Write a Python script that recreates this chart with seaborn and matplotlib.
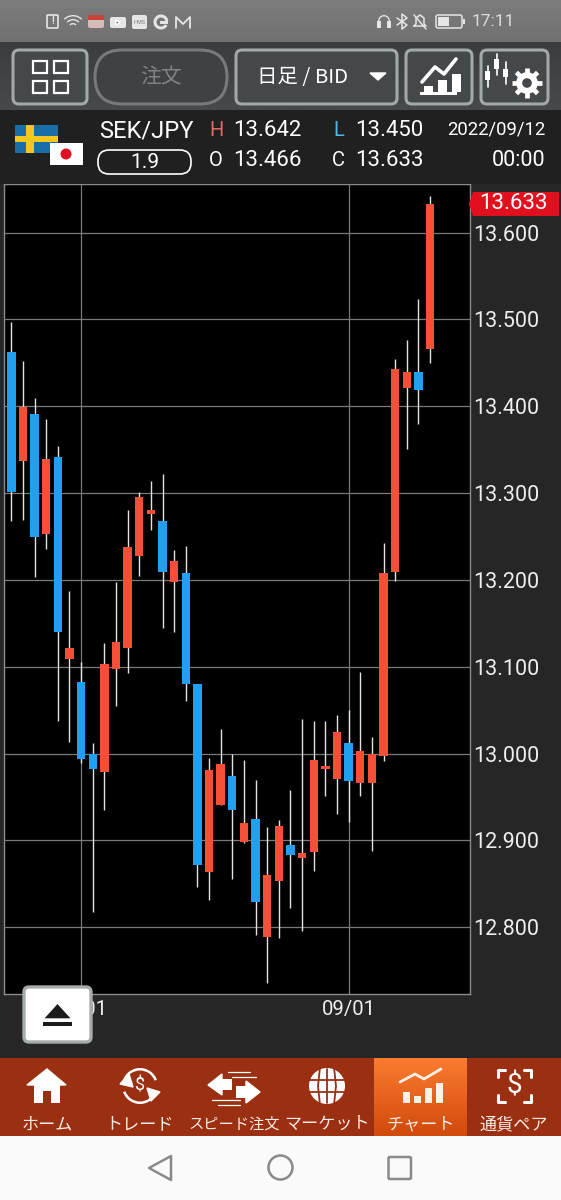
import numpy as np
import pandas as pd
import matplotlib
matplotlib.use('Agg')
import matplotlib.pyplot as plt
import seaborn as sns
from matplotlib.patches import Circle, FancyBboxPatch, Polygon, Rectangle, Wedge

# daily SEK/JPY candles
dates = pd.bdate_range('2022-07-22', '2022-09-12')
opens = [13.463, 13.337, 13.391, 13.253, 13.341, 13.109, 13.082, 13.000, 12.979, 13.097,
         13.121, 13.228, 13.276, 13.268, 13.197, 13.208, 13.080, 12.864, 12.941, 12.974,
         12.898, 12.924, 12.789, 12.853, 12.895, 12.880, 12.886, 12.982, 12.971, 13.012,
         12.966, 12.966, 12.997, 13.209, 13.421, 13.440, 13.466]
highs = [13.497, 13.452, 13.409, 13.385, 13.354, 13.187, 13.105, 13.012, 13.127, 13.197,
         13.280, 13.301, 13.314, 13.322, 13.234, 13.239, 13.080, 12.995, 13.028, 12.999,
         12.992, 12.969, 12.915, 12.923, 12.958, 13.040, 13.038, 13.038, 13.044, 13.050,
         13.094, 13.019, 13.242, 13.455, 13.476, 13.523, 13.642]
lows = [13.268, 13.269, 13.203, 13.235, 13.038, 13.013, 12.989, 12.818, 12.935, 13.055,
        13.093, 13.205, 13.258, 13.145, 13.140, 13.060, 12.846, 12.831, 12.941, 12.856,
        12.897, 12.791, 12.736, 12.787, 12.822, 12.796, 12.865, 12.951, 12.930, 12.921,
        12.951, 12.888, 12.991, 13.199, 13.351, 13.379, 13.450]
closes = [13.301, 13.399, 13.249, 13.339, 13.140, 13.121, 12.994, 12.982, 13.103, 13.129,
          13.238, 13.295, 13.280, 13.209, 13.222, 13.080, 12.872, 12.981, 12.988, 12.935,
          12.920, 12.829, 12.860, 12.917, 12.883, 12.885, 12.993, 12.986, 13.025, 12.968,
          13.003, 13.000, 13.208, 13.443, 13.439, 13.419, 13.633]
price_ticks = [12.8, 12.9, 13.0, 13.1, 13.2, 13.3, 13.4, 13.5, 13.6]
date_ticks = ['2022-08-01', '2022-09-01']
date_labels = ['08/01', '09/01']

UP = '#f64f38'
DOWN = '#22a0f0'
BG = '#262626'
JP = ['Noto Sans CJK JP', 'DejaVu Sans']

sns.set_theme(style='dark', rc={'axes.facecolor': 'black', 'figure.facecolor': BG})
plt.rcParams['font.family'] = ['Roboto', 'Noto Sans CJK JP', 'DejaVu Sans']

W, H = 561, 1200
fig = plt.figure(figsize=(W / 100, H / 100), dpi=100)

# chart
ax = fig.add_axes([4 / W, 1 - 994 / H, (470.5 - 4) / W, (994 - 184) / H])
df = pd.DataFrame({'pos': np.arange(len(dates)), 'open': opens, 'high': highs, 'low': lows, 'close': closes})
df['body_low'] = df[['open', 'close']].min(axis=1)
df['body'] = (df['close'] - df['open']).abs()
df['up'] = df['close'] >= df['open']

ax.vlines(df['pos'], df['low'], df['high'], color='#e2e2e2', lw=1.0, zorder=2)
for is_up, color in [(True, UP), (False, DOWN)]:
    part = df[df['up'] == is_up]
    sns.barplot(data=part, x='pos', y='body', bottom=part['body_low'].values, native_scale=True,
                width=0.72, color=color, saturation=1, errorbar=None, linewidth=0, zorder=3, ax=ax)

ax.set_xlim(-0.63, 39.48)
ax.set_ylim(12.723, 13.656)
ax.set_xlabel('')
ax.set_ylabel('')
tick_pos = [list(dates).index(pd.Timestamp(d)) for d in date_ticks]
ax.set_xticks(tick_pos)
ax.set_xticklabels(date_labels, color='#eeeeee', fontsize=14.7)
ax.yaxis.tick_right()
ax.set_yticks(price_ticks)
ax.set_yticklabels(['%.3f' % p for p in price_ticks], color='#eeeeee', fontsize=15.5)
ax.tick_params(axis='both', length=0)
ax.tick_params(axis='x', pad=4)
ax.tick_params(axis='y', pad=2)
ax.set_axisbelow(True)
ax.grid(True, color='#7a7a7a', lw=0.9)
for s in ax.spines.values():
    s.set_color('#8c8c8c')
    s.set_linewidth(1.0)

# app chrome, drawn in screen pixels
ui = fig.add_axes([0, 0, 1, 1])
ui.patch.set_alpha(0)
ui.axis('off')


def vgrad(x0, x1, y0, y1, c0, c1, z=0):
    cm = matplotlib.colors.LinearSegmentedColormap.from_list('g', [c0, c1])
    ui.imshow(np.linspace(0, 1, 64)[:, None], cmap=cm, extent=(x0, x1, y1, y0), aspect='auto', zorder=z)


def rbox(x0, y0, x1, y1, r, fc, ec, lw=2.0, z=1):
    ui.add_patch(FancyBboxPatch((x0 + r, y0 + r), x1 - x0 - 2 * r, y1 - y0 - 2 * r,
                                boxstyle='round,pad=%f,rounding_size=%f' % (r, r), fc=fc, ec=ec, lw=lw, zorder=z))


def rect(x0, y0, x1, y1, fc='white', ec='none', lw=0, z=3):
    ui.add_patch(Rectangle((x0, y0), x1 - x0, y1 - y0, fc=fc, ec=ec, lw=lw, zorder=z))


def gear(cx, cy, r, fc, hole):
    for a in np.arange(0, 360, 45):
        t = np.radians(a)
        ui.plot([cx, cx + r * np.cos(t)], [cy, cy + r * np.sin(t)], color=fc, lw=3.4, zorder=3, solid_capstyle='butt')
    ui.add_patch(Circle((cx, cy), r * 0.72, fc=fc, ec='none', zorder=3))
    ui.add_patch(Circle((cx, cy), r * 0.32, fc=hole, ec='none', zorder=4))


def line(xs, ys, c='white', lw=1.5, z=3):
    ui.plot(xs, ys, color=c, lw=lw, zorder=z, solid_capstyle='round', solid_joinstyle='round')


vgrad(0, W, 0, 42, '#7c7c7c', '#717171')
vgrad(0, W, 42, 110, '#3a3c3e', '#47494b')
rect(0, 110, W, 184, fc='#202020', z=0)
rect(0, 1136, W, H, fc='#fafafa', z=0)
rect(0, 1058, W, 1136, fc='#9b2f12', z=0)
vgrad(374, 467, 1058, 1136, '#fb7c30', '#d04a0c', z=1)

# status bar
SB = '#e6e6e6'
rbox(47, 15, 58, 28, 1, 'none', SB, lw=1.2, z=3)
ui.text(52.5, 21.5, '!', color=SB, fontsize=7, ha='center', va='center', zorder=4, fontweight='bold')
for r in (5, 9, 13):
    ui.add_patch(Wedge((73, 28), r, 225, 315, width=1.4, fc=SB, ec='none', zorder=3))
rbox(88, 15, 104, 28, 2, '#d8bcb8', 'none', z=3)
rect(88, 15, 104, 20, fc='#c8423c')
rbox(110, 17, 126, 28, 2, SB, 'none', z=3)
ui.add_patch(Polygon([(116, 20), (116, 25), (120, 22.5)], fc='#666666', zorder=4))
rbox(132, 15, 147, 29, 2, SB, 'none', z=3)
ui.text(139.5, 22, 'HMS', color='#777777', fontsize=4, ha='center', va='center', zorder=4)
ui.add_patch(Wedge((161, 22), 7.5, 30, 350, width=3, fc=SB, ec='none', zorder=3))
rect(160, 21, 168, 24, fc=SB)
line([176, 176, 183, 190, 190], [28, 17, 24, 17, 28], c=SB, lw=1.3)
ui.add_patch(Wedge((384, 21), 6, 180, 360, width=1.4, fc=SB, ec='none', zorder=3))
rect(377, 21, 381, 28, fc=SB)
rect(387, 21, 391, 28, fc=SB)
line([397, 407, 402, 402, 407, 397], [18, 25, 29, 14, 18, 25], c=SB, lw=1.1)
line([414, 416, 416, 420, 424, 424, 426, 414], [26, 24, 18, 15, 18, 24, 26, 26], c=SB, lw=1.1)
line([414, 426], [15, 29], c=SB, lw=1.1)
rbox(436, 15, 462, 28, 2, 'none', SB, lw=1.1, z=3)
rect(438, 17, 449, 26, fc=SB)
rect(463, 19, 465, 24, fc=SB)
ui.text(472, 21.5, '17:11', color='#dddddd', fontsize=12.5, ha='left', va='center', zorder=3)

# toolbar
EDGE = '#a3a8a8'
for x0, x1 in [(13, 87), (236, 397), (406, 472), (481, 548)]:
    rbox(x0, 50, x1, 104, 6, '#45484a', EDGE, lw=2.2)
rbox(95, 50, 227, 104, 27, '#3f4244', '#777a7c', lw=2.2)
for x in (33, 54):
    for y in (61, 81):
        rect(x, y, x + 14, y + 12, fc='none', ec='white', lw=1.6)
ui.text(161, 77, '注文', color='#808385', fontsize=15, family=JP, ha='center', va='center', zorder=3)
ui.text(303, 77, '日足 / BID', color='white', fontsize=14.7, family=JP, ha='center', va='center', zorder=3)
ui.add_patch(Polygon([(370, 73), (386, 73), (378, 80)], fc='white', zorder=3))
for x, top in [(424, 86), (438, 80), (452, 74)]:
    rect(x, top, x + 9, 92, fc='white')
rect(420, 92, 457, 95, fc='white')
line([422, 435, 444, 456], [82, 67, 74, 59], lw=2.6)
for x, y0, y1, b0, b1 in [(488, 66, 87, 71, 80), (497, 54, 75, 59, 69), (506, 62, 84, 69, 77)]:
    line([x, x], [y0, y1], lw=1.2)
    rect(x - 2.5, b0, x + 2.5, b1, fc='white')
gear(527, 83, 15, 'white', '#45484a')

# quote header
rect(15, 125, 58, 153, fc='#1a6ea8')
rect(26, 125, 34, 153, fc='#f2c81e')
rect(15, 136, 58, 142, fc='#f2c81e')
rect(50, 143, 83, 165, fc='white', z=4)
ui.add_patch(Circle((66, 154), 5.5, fc='#e01020', ec='none', zorder=5))
ui.text(99, 131, 'SEK/JPY', color='white', fontsize=17, ha='left', va='center', zorder=3)
rbox(98, 150, 191, 174, 11, 'none', 'white', lw=1.2, z=3)
ui.text(145, 162, '1.9', color='white', fontsize=15, ha='center', va='center', zorder=3)
QS = 16
ui.text(209, 130, 'H', color='#e06a66', fontsize=14.5, ha='left', va='center', zorder=3)
ui.text(233, 130, '13.642', color='white', fontsize=QS, ha='left', va='center', zorder=3)
ui.text(333, 130, 'L', color='#4fb8e8', fontsize=14.5, ha='left', va='center', zorder=3)
ui.text(355, 130, '13.450', color='white', fontsize=QS, ha='left', va='center', zorder=3)
ui.text(209, 160, 'O', color='white', fontsize=14.5, ha='left', va='center', zorder=3)
ui.text(233, 160, '13.466', color='white', fontsize=QS, ha='left', va='center', zorder=3)
ui.text(332, 160, 'C', color='white', fontsize=14.5, ha='left', va='center', zorder=3)
ui.text(355, 160, '13.633', color='white', fontsize=QS, ha='left', va='center', zorder=3)
ui.text(545, 130, '2022/09/12', color='white', fontsize=13.3, ha='right', va='center', zorder=3)
ui.text(545, 160, '00:00', color='white', fontsize=15.5, ha='right', va='center', zorder=3)

# last price tag follows the latest close
fig.canvas.draw()
tag_y = H - ax.transData.transform((0, closes[-1]))[1]
ui.add_patch(Polygon([(469, tag_y), (473, tag_y - 12), (559, tag_y - 12), (559, tag_y + 12), (473, tag_y + 12)],
                     fc='#e2101f', ec='none', zorder=3))
ui.text(513, tag_y, '%.3f' % closes[-1], color='white', fontsize=16, ha='center', va='center', zorder=4)

# eject button
rbox(24, 987, 91, 1042, 5, 'white', '#a6acac', lw=2.4, z=3)
ui.add_patch(Polygon([(43, 1019), (57.5, 1003), (72, 1019)], fc='#1c1c1c', zorder=4))
rect(43, 1022, 72, 1026, fc='#1c1c1c', z=4)

# bottom navigation
nav_labels = ['ホーム', 'トレード', 'スピード注文', 'マーケット', 'チャート', '通貨ペア']
nav_x = [47, 140, 234, 327, 421, 514]
nav_size = [12.3, 12.3, 11, 12.3, 12.3, 12.3]
for x, s, fs in zip(nav_x, nav_labels, nav_size):
    ui.text(x, 1124, s, color='#f7ece6', fontsize=fs, family=JP, ha='center', va='center', zorder=3)
# home
ui.add_patch(Polygon([(27, 1085), (47, 1069), (66, 1085)], fc='white', zorder=3))
rect(34, 1085, 60, 1103)
rect(43, 1091, 51, 1103, fc='#9b2f12', z=4)
# trade
ui.add_patch(Wedge((140, 1086), 18, 200, 340, width=2.5, fc='white', ec='none', zorder=3))
ui.add_patch(Wedge((140, 1086), 18, 20, 160, width=2.5, fc='white', ec='none', zorder=3))
ui.add_patch(Polygon([(120, 1084), (129, 1074), (133, 1087)], fc='white', zorder=3))
ui.add_patch(Polygon([(160, 1092), (151, 1101), (147, 1088)], fc='white', zorder=3))
ui.text(140, 1086, '$', color='white', fontsize=13, ha='center', va='center', zorder=3)
# speed order
ui.add_patch(Polygon([(208, 1085), (222, 1074), (222, 1095)], fc='white', zorder=3))
rect(222, 1079, 232, 1090)
ui.add_patch(Polygon([(260, 1092), (246, 1081), (246, 1103)], fc='white', zorder=3))
rect(236, 1086, 246, 1098)
for x0, x1, y in [(228, 250, 1072), (232, 256, 1077), (212, 240, 1100), (218, 240, 1105)]:
    line([x0, x1], [y, y], lw=0.9)
# market globe
ui.add_patch(Circle((327, 1086), 18, fc='white', ec='none', zorder=3))
for dx in (-9, 0, 9):
    line([327 + dx * 0.8, 327 + dx, 327 + dx * 0.8], [1069, 1086, 1103], c='#9b2f12', lw=1.3, z=4)
for y in (1080, 1092):
    line([309, 345], [y, y], c='#9b2f12', lw=1.3, z=4)
# chart tab
for x, top in [(403, 1092), (414, 1096), (425, 1088), (436, 1083)]:
    rect(x, top, x + 7, 1103, fc='#fdf0e6')
line([400, 415, 424, 441], [1082, 1074, 1079, 1069], c='#fdf0e6', lw=2)
# pairs
for sx, sy, x, y in [(1, 1, 498, 1070), (-1, 1, 531, 1070), (1, -1, 498, 1102), (-1, -1, 531, 1102)]:
    line([x + 7 * sx, x, x], [y, y, y + 7 * sy], lw=2.2)
ui.text(514.5, 1086, '$', color='white', fontsize=20, ha='center', va='center', zorder=3)

# android keys
KEY = '#8a8a8a'
ui.add_patch(Polygon([(171, 1156), (171, 1180), (149, 1168)], fc='none', ec=KEY, lw=1.8, joinstyle='round', zorder=3))
ui.add_patch(Circle((280.5, 1167.5), 12, fc='none', ec=KEY, lw=1.8, zorder=3))
rbox(388.5, 1157, 411, 1179, 1.5, 'none', KEY, lw=1.8, z=3)

ui.set_xlim(0, W)
ui.set_ylim(H, 0)
fig.savefig('out.png', dpi=100, facecolor=BG)
